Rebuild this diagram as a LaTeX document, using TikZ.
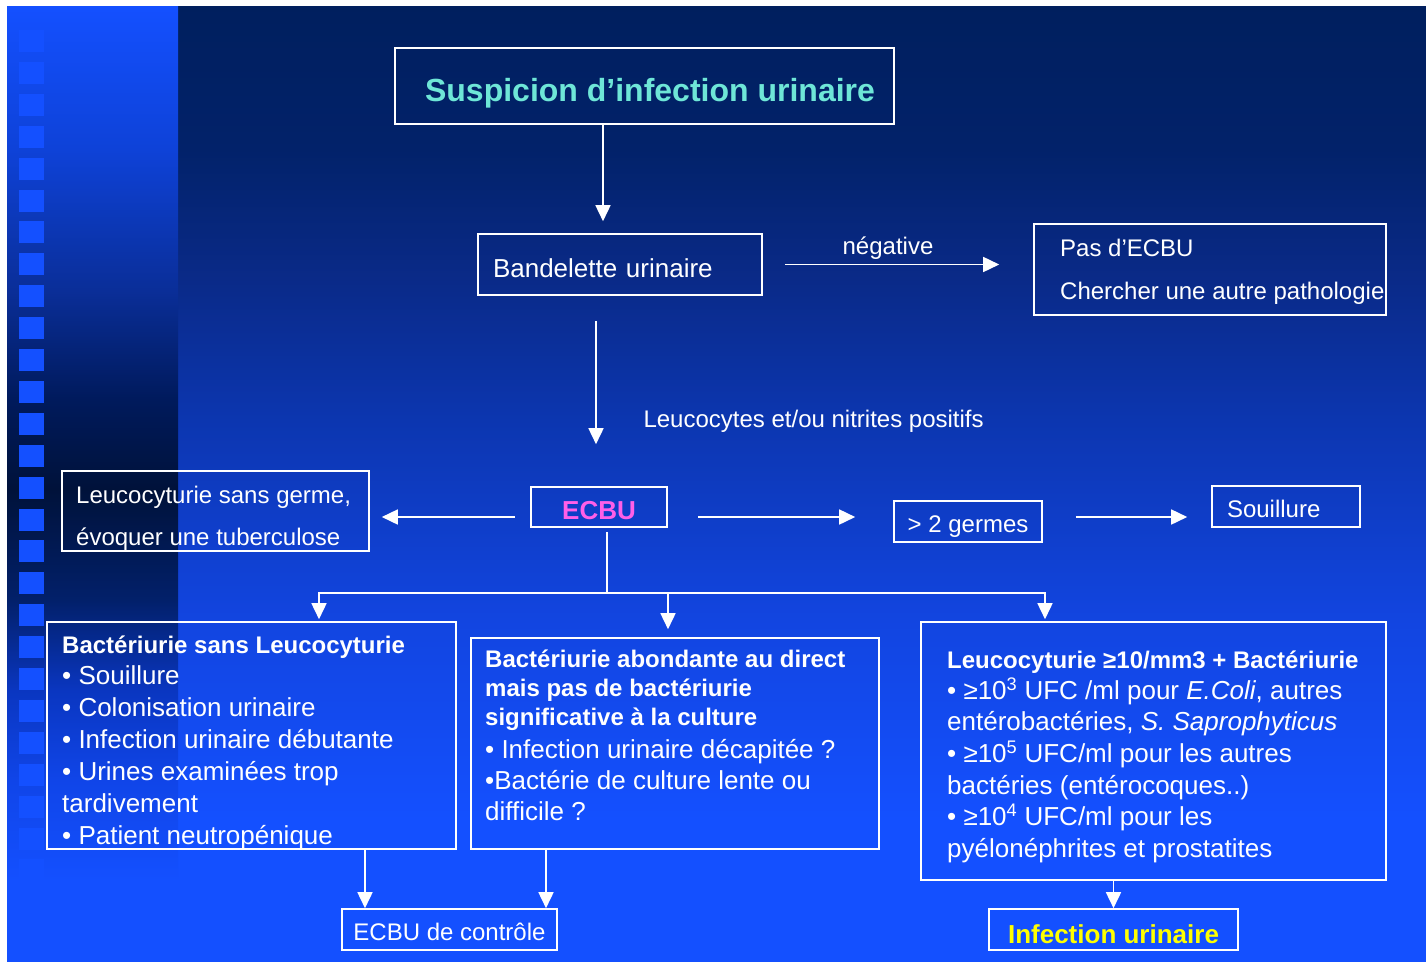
\documentclass[tikz,border=0pt]{standalone}
\usepackage{fontspec}
\setmainfont{Liberation Sans}
\usetikzlibrary{arrows.meta,positioning}

\definecolor{bleuvif}{HTML}{1450FF}
\definecolor{fondA}{HTML}{1245E0}
\definecolor{fondB}{HTML}{0C36B0}
\definecolor{fondC}{HTML}{0A2A88}
\definecolor{fondD}{HTML}{02226A}
\definecolor{fondE}{HTML}{001F5E}
\definecolor{bandeA}{HTML}{1045E8}
\definecolor{bandeB}{HTML}{0A36C0}
\definecolor{bandeC}{HTML}{02206A}
\definecolor{bandeD}{HTML}{00123A}
\definecolor{bandeE}{HTML}{001A5C}
\definecolor{bandeF}{HTML}{0A2E98}
\definecolor{bandeG}{HTML}{0E42D8}
\definecolor{titre}{HTML}{6EE6D7}
\definecolor{rose}{HTML}{FF5FE8}
\definecolor{jaune}{HTML}{FFFF00}

\pgfdeclareverticalshading{fondpage}{100bp}{color(0bp)=(bleuvif); color(25bp)=(bleuvif);
  color(32.4bp)=(bleuvif); color(42.9bp)=(fondA); color(53.3bp)=(fondB);
  color(60.7bp)=(fondC); color(67.5bp)=(fondD); color(75bp)=(fondE); color(100bp)=(fondE)}
\pgfdeclareverticalshading{bande}{100bp}{color(0bp)=(bleuvif); color(25bp)=(bleuvif);
  color(29.2bp)=(bleuvif); color(34.5bp)=(bandeA); color(39.2bp)=(bandeB);
  color(43.9bp)=(bandeC); color(49.7bp)=(bandeD); color(54.4bp)=(bandeE);
  color(60.1bp)=(bandeF); color(67.5bp)=(bandeG); color(75bp)=(bleuvif); color(100bp)=(bleuvif)}

\newcommand{\corps}{\fontsize{26pt}{32pt}\selectfont}
\newcommand{\petit}{\fontsize{24pt}{29pt}\selectfont}
\newcommand{\entete}{\bfseries\fontsize{24pt}{29pt}\selectfont}
\newcommand{\haut}{\rule{0pt}{1em}}

\begin{document}
\begin{tikzpicture}[x=1pt, y=-1pt,
    boite/.style={draw=white, line width=1.6pt, inner sep=0pt, text=white, font=\petit, text depth=0pt},
    texte/.style={text=white, inner sep=0pt, align=left, anchor=north west},
    fleche/.style={draw=white, line width=1.6pt, -{Triangle[width=15pt,length=16pt]}},
    trait/.style={draw=white, line width=1.6pt}]
  \useasboundingbox (0,0) rectangle (1426,961);
  % fond
  \fill[white] (0,0) rectangle (1426,961);
  \shade[shading=fondpage] (7,6) rectangle (1426,961);
  \shade[shading=bande] (7,6) rectangle (178,961);
  \foreach \i in {0,...,28}
    \fill[bleuvif] (19,{30+31.9*\i}) rectangle (44,{52+31.9*\i});

  % haut
  \node[boite, minimum width=499pt, minimum height=76pt] (suspicion) at (644.5,86) {};
  \node[text=titre, inner sep=0pt, anchor=base, font=\fontsize{32pt}{38pt}\selectfont\bfseries] (suspicionTxt) at (650,101) {Suspicion d’infection urinaire};
  \node[boite, font=\corps, minimum height=61pt, text height=25pt, text width=254pt, inner xsep=15pt, align=left] (bandelette) at (620,264.5) {Bandelette urinaire};
  \node[boite, minimum width=352pt, minimum height=91pt] (pasecbu) at (1210,269.5) {};
  \node[texte, font=\fontsize{24pt}{43pt}\selectfont] (pasecbuTxt) at (1060,232) {\haut Pas d’ECBU\\Chercher une autre pathologie};
  \node[text=white, font=\petit, anchor=base] (negative) at (888,254) {négative};
  \node[text=white, font=\petit, anchor=base west] (positifs) at (640,427) {Leucocytes et/ou nitrites positifs};

  % ligne ECBU
  \node[boite, minimum width=136pt, minimum height=40pt, text height=25pt, text=rose,
    font=\fontsize{26pt}{30pt}\selectfont\bfseries] (ecbu) at (599,507) {ECBU};
  \node[boite, minimum width=307pt, minimum height=80pt] (germe) at (215.5,511) {};
  \node[texte, font=\fontsize{24pt}{42pt}\selectfont] (germeTxt) at (76,479) {\haut Leucocyturie sans germe,\\évoquer une tuberculose};
  \node[boite, minimum width=148pt, minimum height=41pt, text height=21pt] (germes) at (968,521.5) {> 2 germes};
  \node[boite, minimum height=41pt, text height=22pt, text width=118pt, inner xsep=15pt, align=left] (souillure) at (1286,506.5) {Souillure};

  % trois cadres
  \node[boite, minimum width=409pt, minimum height=227pt] (gauche) at (251.5,735.5) {};
  \node[texte, font=\corps] (gaucheTxt) at (62,629) {{\entete\haut Bactériurie sans Leucocyturie}\\[-1pt]
    • Souillure\\ • Colonisation urinaire\\ • Infection urinaire débutante\\
    • Urines examinées trop\\ tardivement\\ • Patient neutropénique};
  \node[boite, minimum width=408pt, minimum height=211pt] (milieu) at (675,743.5) {};
  \node[texte, font=\corps] (milieuTxt) at (485,643) {{\entete\haut Bactériurie abondante au direct}\\[-3pt]
    {\entete mais pas de bactériurie}\\[-3pt] {\entete significative à la culture}\\[1pt]
    • Infection urinaire décapitée ?\\[-1pt] •Bactérie de culture lente ou\\[-1pt] difficile ?};
  \node[boite, minimum width=465pt, minimum height=258pt] (droite) at (1153.5,751) {};
  \node[texte, font=\corps] (droiteTxt) at (947,644) {{\entete\haut Leucocyturie ≥10/mm3 + Bactériurie}\\[-1pt]
    • ≥10\textsuperscript{3} UFC /ml pour \textit{E.Coli}, autres\\[-1pt]
    entérobactéries, \textit{S. Saprophyticus}\\
    • ≥10\textsuperscript{5} UFC/ml pour les autres\\
    bactéries (entérocoques..)\\[-1pt]
    • ≥10\textsuperscript{4} UFC/ml pour les\\
    pyélonéphrites et prostatites};

  % bas
  \node[boite, minimum width=215pt, minimum height=41pt, text height=22pt] (controle) at (449.5,929.5) {ECBU de contrôle};
  \node[boite, minimum width=249pt, minimum height=41pt, text height=28pt, text=jaune,
    font=\fontsize{26pt}{30pt}\selectfont\bfseries] (infection) at (1113.5,929.5) {Infection urinaire};

  % fleches
  \draw[fleche] ([xshift=-41.5pt]suspicion.south) -- ([xshift=-17pt,yshift=12pt]bandelette.north);
  \draw[fleche, shorten <=22pt, shorten >=34pt] (bandelette.east) -- (bandelette.east -| pasecbu.west);
  \draw[fleche] ([xshift=-24pt,yshift=-25pt]bandelette.south) -- ([xshift=-3pt,yshift=42pt]ecbu.north);
  \draw[fleche, shorten <=15pt, shorten >=12pt] ([yshift=-10pt]ecbu.west) -- ([yshift=-10pt]ecbu.west -| germe.east);
  \draw[fleche, shorten <=30pt, shorten >=38pt] ([yshift=-10pt]ecbu.east) -- ([yshift=-10pt]ecbu.east -| germes.west);
  \draw[fleche, shorten <=33pt, shorten >=24pt] ([yshift=4.5pt]germes.east) -- ([yshift=4.5pt]germes.east -| souillure.west);
  \coordinate (embr) at ([xshift=8pt,yshift=-65pt]ecbu.south);
  \draw[trait] ([xshift=8pt,yshift=-4pt]ecbu.south) -- (embr);
  \draw[fleche] (embr) -| ([xshift=67.5pt,yshift=2pt]gauche.north);
  \draw[fleche] ([xshift=-7pt]embr -| milieu.north) -- ([xshift=-7pt,yshift=8pt]milieu.north);
  \draw[fleche] (embr) -| ([xshift=-108.5pt,yshift=2pt]droite.north);
  \draw[fleche] ([xshift=113.5pt]gauche.south) -- ([xshift=113.5pt]gauche.south |- controle.north);
  \draw[fleche] ([xshift=-129pt]milieu.south) -- ([xshift=-129pt]milieu.south |- controle.north);
  \draw[fleche] (droite.south -| infection.north) -- (infection.north);
\end{tikzpicture}
\end{document}
